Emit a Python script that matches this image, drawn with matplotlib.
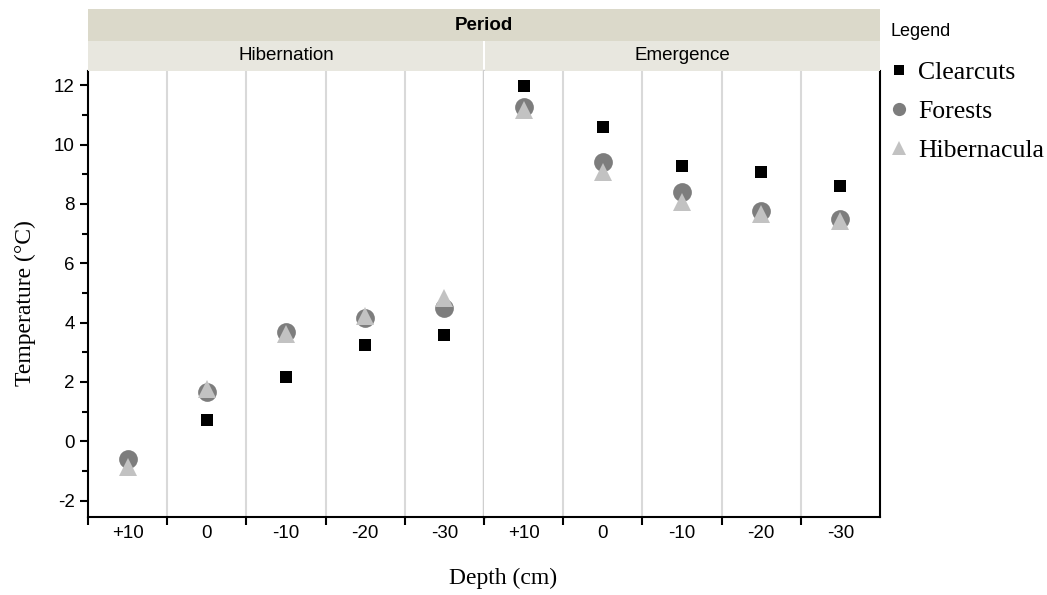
import matplotlib
matplotlib.use("Agg")
import matplotlib.pyplot as plt
from matplotlib.lines import Line2D
from matplotlib.patches import Rectangle

plt.rcParams["axes.unicode_minus"] = False

# values
depths = ["+10", "0", "-10", "-20", "-30"]
periods = ["Hibernation", "Emergence"]

clearcuts_hib = [None, 0.73, 2.18, 3.23, 3.60]
forests_hib = [-0.60, 1.67, 3.68, 4.14, 4.50]
hibernacula_hib = [-0.85, 1.76, 3.62, 4.24, 4.82]

clearcuts_emg = [11.97, 10.58, 9.28, 9.06, 8.59]
forests_emg = [11.25, 9.40, 8.39, 7.76, 7.49]
hibernacula_emg = [11.16, 9.08, 8.05, 7.67, 7.41]

series_names = ["Clearcuts", "Forests", "Hibernacula"]
series_colors = ["#000000", "#7d7d7d", "#c2c2c2"]
series_markers = ["s", "o", "^"]
series_sizes = [9, 13.5, 12.5]

sans = "Liberation Sans"
serif = "Liberation Serif"

fig = plt.figure(figsize=(10.47, 5.95), dpi=100)

W, H = 1047, 595
left, mid, right = 88, 484, 880
top, bottom = 71, 517

ax1 = fig.add_axes([left / W, 1 - bottom / H, (mid - left) / W, (bottom - top) / H])
ax2 = fig.add_axes([mid / W, 1 - bottom / H, (right - mid) / W, (bottom - top) / H])

panel_data = [
    (ax1, [clearcuts_hib, forests_hib, hibernacula_hib]),
    (ax2, [clearcuts_emg, forests_emg, hibernacula_emg]),
]

for ax, data in panel_data:
    ax.set_xlim(-0.5, 4.5)
    ax.set_ylim(-2.55, 12.48)
    for b in [0.5, 1.5, 2.5, 3.5]:
        ax.axvline(b, color="#d9d9d9", lw=1.5, zorder=0)
    for vals, c, m, s in zip(data, series_colors, series_markers, series_sizes):
        xs = [i for i, v in enumerate(vals) if v is not None]
        ys = [v for v in vals if v is not None]
        ax.plot(xs, ys, linestyle="none", marker=m, color=c, markersize=s,
                markeredgewidth=0, zorder=3, clip_on=False)
    ax.set_xticks(range(len(depths)))
    ax.set_xticklabels(depths, fontfamily=sans, fontsize=13.5)
    ax.tick_params(axis="x", which="major", length=0, pad=6)
    ax.spines["top"].set_visible(False)
    for sp in ax.spines.values():
        sp.set_linewidth(1.5)

# panel divider
ax1.axvline(4.5, color="#cfcfcf", lw=2.5, zorder=0, clip_on=False)

ax1.set_xticks([-0.5, 0.5, 1.5, 2.5, 3.5, 4.5], minor=True)
ax2.set_xticks([0.5, 1.5, 2.5, 3.5], minor=True)
for ax in (ax1, ax2):
    ax.tick_params(axis="x", which="minor", length=6, width=1.5, direction="out")

ax1.spines["right"].set_visible(False)
ax2.spines["left"].set_visible(False)
ax2.set_yticks([])

ax1.set_yticks(range(-2, 13, 2))
ax1.set_yticks(range(-1, 13, 2), minor=True)
ax1.tick_params(axis="y", which="major", length=6, width=1.5, labelsize=13.5)
ax1.tick_params(axis="y", which="minor", length=4, width=1.5)
for lab in ax1.get_yticklabels():
    lab.set_fontfamily(sans)

# facet headers
fig.patches.append(Rectangle((left / W, 1 - 41 / H), (right - left) / W, 32 / H,
                             transform=fig.transFigure, facecolor="#dbd9ca",
                             edgecolor="none"))
fig.patches.append(Rectangle((left / W, 1 - 71 / H), (mid - left - 1) / W, 30 / H,
                             transform=fig.transFigure, facecolor="#e8e7df",
                             edgecolor="none"))
fig.patches.append(Rectangle(((mid + 1) / W, 1 - 71 / H), (right - mid - 1) / W, 30 / H,
                             transform=fig.transFigure, facecolor="#e8e7df",
                             edgecolor="none"))
fig.text((left + right) / 2 / W, 1 - 25 / H, "Period", ha="center", va="center",
         fontfamily=sans, fontsize=13.5, fontweight="bold")
fig.text((left + mid) / 2 / W, 1 - 56 / H, periods[0], ha="center", va="center",
         fontfamily=sans, fontsize=13.5)
fig.text((mid + right) / 2 / W, 1 - 56 / H, periods[1], ha="center", va="center",
         fontfamily=sans, fontsize=13.5)

# axis labels
fig.text(25 / W, 1 - 303 / H, "Temperature (°C)", rotation=90, ha="center",
         va="center", fontfamily=serif, fontsize=17)
fig.text(503 / W, 1 - 578 / H, "Depth (cm)", ha="center", va="center",
         fontfamily=serif, fontsize=17)

# legend
fig.text(891 / W, 1 - 32 / H, "Legend", ha="left", va="center",
         fontfamily=sans, fontsize=13)
handles = [Line2D([], [], linestyle="none", marker=m, color=c, markersize=ms,
                  markeredgewidth=0)
           for c, m, ms in zip(series_colors, series_markers, [7.5, 9.5, 9.5])]
leg = fig.legend(handles, series_names, loc="upper left",
                 bbox_to_anchor=(891 / W, 1 - 61 / H), frameon=False,
                 prop={"family": serif, "size": 18.5}, handlelength=0.6,
                 handletextpad=0.45, labelspacing=0.62, borderpad=0,
                 borderaxespad=0)

fig.savefig("out.png", dpi=100)
